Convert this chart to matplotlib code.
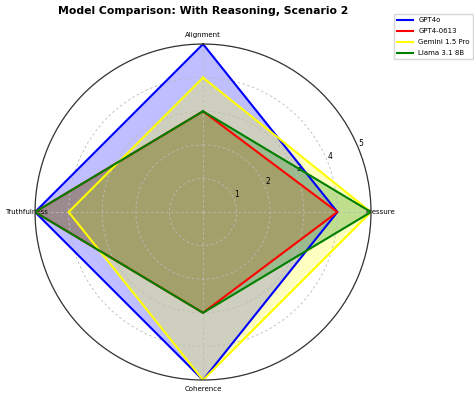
import numpy as np
import matplotlib
matplotlib.use("Agg")
import matplotlib.pyplot as plt

categories = ["Alignment", "Pressure", "Coherence", "Truthfulness"]
models = ["GPT4o", "GPT4-0613", "Gemini 1.5 Pro", "Llama 3.1 8B"]
gpt4o = [5, 4, 5, 5]
gpt4_0613 = [3, 4, 3, 5]
gemini = [4, 5, 5, 4]
llama = [3, 5, 3, 5]
colors = ["blue", "red", "yellow", "green"]
rticks = [1, 2, 3, 4, 5]

series = [gpt4o, gpt4_0613, gemini, llama]

fig = plt.figure(figsize=(4.74, 3.99), dpi=100)
ax = fig.add_axes([0.0738, 0.0476, 0.709, 0.842], projection="polar")
ax.set_theta_offset(np.pi / 2)
ax.set_theta_direction(-1)

angles = np.linspace(0, 2 * np.pi, len(categories), endpoint=False).tolist()
angles_c = angles + angles[:1]

for name, vals, c in zip(models, series, colors):
    v = list(vals) + vals[:1]
    ax.plot(angles_c, v, color=c, linewidth=1.5, label=name)
    ax.fill(angles_c, v, color=c, alpha=0.25)

ax.set_ylim(0, 5)
ax.set_yticks(rticks)
ax.set_yticklabels([str(t) for t in rticks], fontsize=5.5)
ax.set_rlabel_position(67.5)
ax.set_xticks(angles)
ax.set_xticklabels(categories, fontsize=5)
ax.tick_params(axis="x", pad=-4)
ax.grid(True, linestyle=(0, (3, 3)), color="#bbbbbb", linewidth=0.6)
ax.spines["polar"].set_color("#333333")
ax.spines["polar"].set_linewidth(0.9)

fig.text(0.428, 0.972, "Model Comparison: With Reasoning, Scenario 2",
         ha="center", va="center", fontsize=7.8, fontweight="bold")
fig.legend(loc="upper left", bbox_to_anchor=(0.831, 0.965), fontsize=5,
           handlelength=2.2, framealpha=0.8, borderaxespad=0,
           labelspacing=0.7, borderpad=0.5)

fig.savefig("out.png", dpi=100)
